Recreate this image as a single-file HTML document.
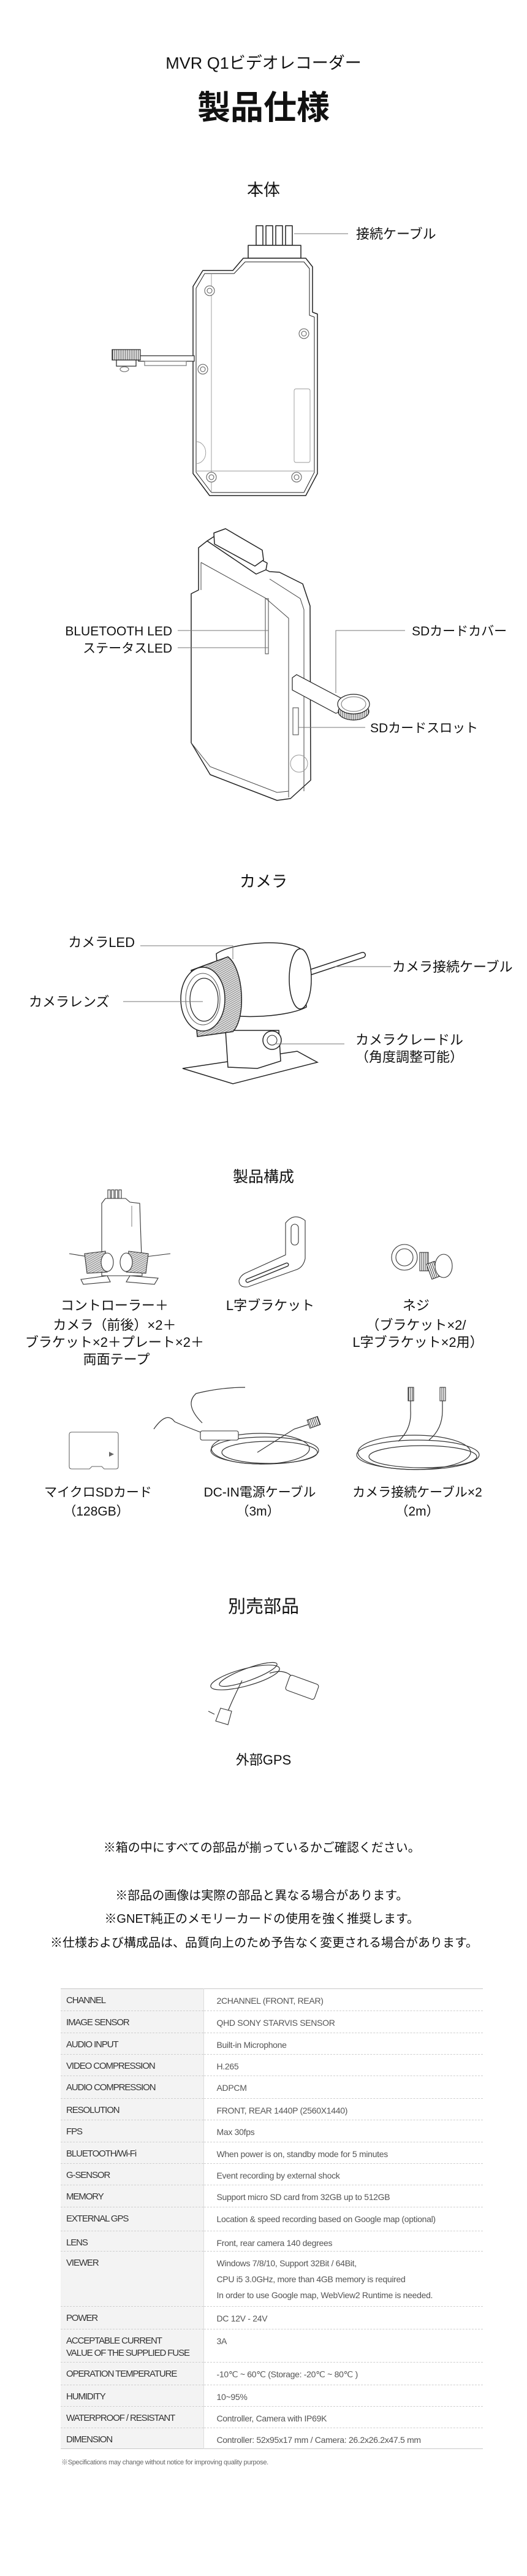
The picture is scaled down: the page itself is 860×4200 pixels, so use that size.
<!DOCTYPE html>
<html><head><meta charset="utf-8">
<style>
html,body{margin:0;padding:0;background:#fff;}
body{width:860px;height:4200px;position:relative;overflow:hidden;font-family:"Liberation Sans","Noto Sans CJK JP",sans-serif;}
svg{position:absolute;left:0;top:0;}
svg text{font-family:"Liberation Sans","Noto Sans CJK JP",sans-serif;fill:#111;}
table{position:absolute;left:99px;top:3242px;width:689px;border-collapse:collapse;border-top:1.5px solid #c8c8c8;border-bottom:1.5px solid #c8c8c8;font-family:"Liberation Sans",sans-serif;}
td{vertical-align:top;padding:6px 0 0 0;line-height:26px;border-bottom:1px dashed #cfcfcf;box-sizing:border-box;}
td.l{width:233px;background:#f3f3f3;padding-left:9px;font-size:15px;letter-spacing:-1.1px;color:#333;border-right:1px solid #ddd;}
td.v{padding-left:21px;font-size:14px;letter-spacing:-0.3px;color:#555;}
.fn{position:absolute;left:100px;top:4006px;font-size:11px;color:#666;letter-spacing:-0.3px;}
</style></head><body>
<svg width="860" height="4200" viewBox="0 0 860 4200">
<defs>
<pattern id="hatch" width="3" height="3" patternUnits="userSpaceOnUse" patternTransform="rotate(60)"><rect width="3" height="3" fill="#ddd"/><line x1="0" y1="0" x2="0" y2="3" stroke="#555" stroke-width="1.2"/></pattern>
<pattern id="rib" width="3" height="10" patternUnits="userSpaceOnUse"><rect width="3" height="10" fill="#fff"/><line x1="1" y1="0" x2="1" y2="10" stroke="#333" stroke-width="1"/></pattern>
</defs>

<text x="430" y="112" font-size="27" text-anchor="middle">MVR Q1ビデオレコーダー</text>
<text x="430" y="194" font-size="54" font-weight="bold" text-anchor="middle">製品仕様</text>
<text x="430" y="319" font-size="27" text-anchor="middle">本体</text>

<!-- Device 1 -->
<g fill="none" stroke="#222" stroke-width="1.5" stroke-linejoin="round">
<rect x="418" y="368" width="11" height="32" fill="#fff"/>
<rect x="434" y="368" width="11" height="32" fill="#fff"/>
<rect x="450" y="368" width="11" height="32" fill="#fff"/>
<rect x="466" y="368" width="11" height="32" fill="#fff"/>
<rect x="405" y="400" width="86" height="21" fill="#fff"/>
<path d="M380,441 L397,421 L499,421 L510,435 L510,509 L518,512 L518,772 L499,808 L342,808 L315,772 L315,467 L331,441 Z" fill="#fff"/>
<path d="M382,446 L400,427 L496,427 L505,438 L505,514 L513,517 L513,770 L496,803 L345,803 L320,770 L320,470 L334,446 Z" stroke-width="1"/>
</g>
<g fill="none" stroke="#999" stroke-width="0.9">
<line x1="345" y1="446" x2="345" y2="803"/>
<line x1="320" y1="768" x2="513" y2="768"/>
<rect x="480" y="634" width="26" height="120" rx="3"/>
<path d="M320,720 A14,16 0 0 1 320,756"/>
</g>
<g fill="#fff" stroke="#555" stroke-width="1">
<circle cx="342" cy="474" r="8"/><circle cx="342" cy="474" r="4"/>
<circle cx="496" cy="544" r="8"/><circle cx="496" cy="544" r="4"/>
<circle cx="331" cy="602" r="8"/><circle cx="331" cy="602" r="4"/>
<circle cx="345" cy="778" r="8"/><circle cx="345" cy="778" r="4"/>
<circle cx="484" cy="778" r="8"/><circle cx="484" cy="778" r="4"/>
</g>
<g stroke="#222" stroke-width="1.2" fill="#fff">
<rect x="226" y="580" width="91" height="9"/>
<rect x="236" y="589" width="68" height="7" stroke="#777"/>
<rect x="183" y="570" width="46" height="17" fill="url(#rib)"/>
<rect x="190" y="587" width="32" height="10"/>
<ellipse cx="203" cy="602" rx="7" ry="4" stroke="#777"/>
</g>
<line x1="480" y1="381" x2="568" y2="381" stroke="#777" stroke-width="1"/>
<text x="581" y="389" font-size="22">接続ケーブル</text>

<!-- Device 2 -->
<g fill="#fff" stroke="#222" stroke-width="1.5" stroke-linejoin="round">
<path d="M324,893 L338,882 L440,932 L456,933 L494,952 L506,988 L507,1272 L474,1302 L452,1305 L343,1263 L312,1211 L312,968 L324,962 Z"/>
<path d="M338,882 L352,873 L436,918 L434,929 L418,936 Z"/>
<path d="M349,869 L368,862 L428,897 L430,913 L416,923 L350,887 Z"/>
</g>
<g fill="none" stroke="#444" stroke-width="1">
<path d="M328,917 L433,975 L471,1008 L471,1300"/>
<path d="M328,917 L328,962"/>
<path d="M440,944 L490,976 L496,994 L496,1290"/>
<path d="M312,1211 L343,1250 L452,1292 L471,1290"/>
<rect x="433" y="976" width="5" height="90"/>
<circle cx="488" cy="1245" r="14" stroke="#999"/>
<rect x="478" y="1154" width="9" height="44"/>
</g>
<g fill="#fff" stroke="#222" stroke-width="1.2">
<path d="M477,1105 L484,1100 L556,1138 L556,1160 L548,1163 L477,1125 Z"/>
<ellipse cx="577" cy="1160" rx="25" ry="14" fill="url(#rib)"/>
<ellipse cx="577" cy="1148" rx="26" ry="16"/>
<ellipse cx="577" cy="1148" rx="20" ry="12" stroke="#888"/>
</g>
<g stroke="#777" stroke-width="1" fill="none">
<line x1="290" y1="1028" x2="438" y2="1028"/>
<line x1="290" y1="1056" x2="438" y2="1056"/>
<polyline points="661,1028 548,1028 548,1130"/>
<line x1="487" y1="1186" x2="596" y2="1186"/>
</g>
<text x="281" y="1036" font-size="21" text-anchor="end">BLUETOOTH LED</text>
<text x="281" y="1064" font-size="21" text-anchor="end">ステータスLED</text>
<text x="672" y="1036" font-size="21">SDカードカバー</text>
<text x="604" y="1194" font-size="21">SDカードスロット</text>

<!-- Camera -->
<text x="430" y="1446" font-size="26" text-anchor="middle">カメラ</text>
<path d="M498,1588 L592,1557" stroke="#222" stroke-width="10" stroke-linecap="round"/>
<path d="M498,1588 L592,1557" stroke="#fff" stroke-width="7" stroke-linecap="round"/>
<g stroke="#222" stroke-width="1.5" fill="#fff">
<path d="M298,1742 L485,1714 L518,1732 L380,1767 Z"/>
<path d="M368,1680 L372,1740 L420,1742 L458,1730 L455,1680 Z"/>
<path d="M353,1555 C380,1536 470,1530 492,1548 L500,1642 C470,1658 390,1662 360,1652 Z"/>
<ellipse cx="490" cy="1596" rx="18" ry="49"/>
<path d="M312,1582 L372,1560 C398,1580 402,1660 380,1682 L322,1690 Z" fill="url(#hatch)"/>
<ellipse cx="331" cy="1629" rx="36" ry="52"/>
<ellipse cx="331" cy="1629" rx="28" ry="42" fill="none" stroke="#555" stroke-width="1"/>
<ellipse cx="333" cy="1630" rx="23" ry="35" stroke-width="1.2"/>
<circle cx="444" cy="1696" r="15"/>
<circle cx="444" cy="1696" r="8" stroke-width="1"/>
</g>
<g stroke="#777" stroke-width="1" fill="none">
<polyline points="229,1542 380,1542 380,1564"/>
<line x1="201" y1="1633" x2="331" y2="1633"/>
<line x1="546" y1="1576" x2="638" y2="1576"/>
<line x1="449" y1="1702" x2="562" y2="1702"/>
</g>
<text x="220" y="1544" font-size="22" text-anchor="end">カメラLED</text>
<text x="47" y="1641" font-size="22">カメラレンズ</text>
<text x="640" y="1584" font-size="22">カメラ接続ケーブル</text>
<text x="668" y="1703" font-size="22" text-anchor="middle">カメラクレードル</text>
<text x="668" y="1731" font-size="22" text-anchor="middle">（角度調整可能）</text>

<!-- Components -->
<text x="430" y="1927" font-size="25" text-anchor="middle">製品構成</text>
<g stroke="#333" stroke-width="1.1" fill="#fff">
<rect x="176" y="1940" width="4" height="14"/><rect x="182" y="1940" width="4" height="14"/><rect x="188" y="1940" width="4" height="14"/><rect x="194" y="1940" width="4" height="14"/>
<path d="M166,1962 L172,1954 L205,1954 L212,1960 L228,1962 L232,2080 L166,2080 Z"/>
<line x1="215" y1="1966" x2="215" y2="2000" stroke="#888"/>
<line x1="113" y1="2044" x2="150" y2="2050"/><line x1="230" y1="2050" x2="278" y2="2044"/>
<path d="M138,2044 L172,2040 L175,2074 L142,2076 Z" fill="url(#hatch)"/>
<ellipse cx="175" cy="2058" rx="10" ry="15"/>
<path d="M210,2040 L242,2044 L238,2076 L206,2074 Z" fill="url(#hatch)"/>
<ellipse cx="206" cy="2058" rx="10" ry="15"/>
<path d="M132,2086 L175,2080 L180,2090 L136,2094 Z"/>
<path d="M206,2090 L212,2080 L258,2084 L252,2094 Z"/>
<!-- L bracket -->
<path d="M466,1994 Q480,1976 498,1990 L498,2052 Q495,2066 484,2070 L405,2098 Q390,2100 390,2088 Q392,2080 400,2076 L466,2046 Z"/>
<rect x="475" y="1996" width="12" height="34" rx="6"/>
<path d="M404,2088 L468,2062" stroke-width="7" stroke-linecap="round"/>
<path d="M404,2088 L468,2062" stroke="#fff" stroke-width="4" stroke-linecap="round"/>
<!-- screws -->
<rect x="685" y="2042" width="14" height="30" fill="url(#rib)"/>
<circle cx="660" cy="2050" r="21"/><circle cx="660" cy="2050" r="14"/>
<rect x="700" y="2058" width="14" height="26" fill="url(#rib)" transform="rotate(-20 707 2071)"/>
<ellipse cx="724" cy="2064" rx="14" ry="19"/>
<!-- SD card -->
<path d="M113,2339 Q113,2335 117,2335 L189,2335 Q193,2335 193,2339 L193,2391 Q193,2395 189,2395 L170,2395 L166,2391 L150,2391 L146,2395 L117,2395 Q113,2395 113,2391 Z" stroke="#666"/>
<path d="M178,2367 L186,2371 L178,2375 Z" fill="#666" stroke="none"/>
<!-- DC cable -->
<g fill="none" stroke-width="1.2">
<ellipse cx="432" cy="2365" rx="88" ry="22"/><ellipse cx="440" cy="2368" rx="78" ry="18"/><ellipse cx="425" cy="2362" rx="80" ry="25"/>
<path d="M420,2368 L480,2330 L505,2322"/>
<path d="M340,2340 Q300,2325 285,2318 Q272,2300 251,2330"/>
<path d="M330,2320 Q300,2290 320,2272 Q360,2262 400,2262"/>
</g>
<rect x="327" y="2333" width="62" height="15" rx="3"/>
<rect x="503" y="2312" width="18" height="14" fill="url(#rib)" transform="rotate(-20 512 2319)"/>
<!-- Camera cables -->
<g fill="none" stroke-width="1.2">
<ellipse cx="682" cy="2372" rx="100" ry="24"/><ellipse cx="690" cy="2375" rx="88" ry="18"/><ellipse cx="676" cy="2368" rx="92" ry="28"/>
<path d="M650,2350 Q672,2330 670,2300 L670,2280"/>
<path d="M700,2348 Q722,2330 722,2300 L722,2280"/>
</g>
<rect x="666" y="2262" width="9" height="22" fill="url(#rib)"/>
<rect x="718" y="2262" width="9" height="22" fill="url(#rib)"/>
<!-- GPS -->
<g fill="none" stroke-width="1.2">
<ellipse cx="400" cy="2735" rx="58" ry="14" transform="rotate(-15 400 2735)"/>
<ellipse cx="405" cy="2730" rx="50" ry="10" transform="rotate(-20 405 2730)"/>
<path d="M395,2740 Q380,2770 372,2790"/>
<path d="M440,2728 Q465,2720 478,2735"/>
</g>
<rect x="468" y="2738" width="50" height="26" rx="4" transform="rotate(20 493 2751)"/>
<path d="M360,2785 L378,2790 L372,2812 L352,2806 Z"/>
<line x1="350" y1="2795" x2="340" y2="2790"/>
</g>
<text font-size="22" text-anchor="middle">
<tspan x="190" y="2136">コントローラー＋</tspan>
<tspan x="190" y="2168">カメラ（前後）×2＋</tspan>
<tspan x="190" y="2196">ブラケット×2＋プレート×2＋</tspan>
<tspan x="190" y="2224">両面テープ</tspan>
</text>
<text x="441" y="2136" font-size="22" text-anchor="middle">L字ブラケット</text>
<text font-size="22" text-anchor="middle">
<tspan x="682" y="2136">ネジ</tspan>
<tspan x="682" y="2168">（ブラケット×2/</tspan>
<tspan x="682" y="2196">L字ブラケット×2用）</tspan>
</text>
<text font-size="21" text-anchor="middle">
<tspan x="160" y="2440">マイクロSDカード</tspan><tspan x="160" y="2471">（128GB）</tspan>
<tspan x="424" y="2440">DC-IN電源ケーブル</tspan><tspan x="424" y="2471">（3m）</tspan>
<tspan x="681" y="2440">カメラ接続ケーブル×2</tspan><tspan x="681" y="2471">（2m）</tspan>
</text>

<text x="430" y="2629" font-size="29" text-anchor="middle">別売部品</text>
<text x="430" y="2877" font-size="22" text-anchor="middle">外部GPS</text>

<text font-size="20" text-anchor="middle">
<tspan x="430" y="3019">※箱の中にすべての部品が揃っているかご確認ください。</tspan>
<tspan x="430" y="3097">※部品の画像は実際の部品と異なる場合があります。</tspan>
<tspan x="430" y="3135">※GNET純正のメモリーカードの使用を強く推奨します。</tspan>
<tspan x="431" y="3174">※仕様および構成品は、品質向上のため予告なく変更される場合があります。</tspan>
</text>
</svg>

<table>
<tr style="height:36px"><td class="l">CHANNEL</td><td class="v">2CHANNEL (FRONT, REAR)</td></tr>
<tr style="height:36px"><td class="l">IMAGE SENSOR</td><td class="v">QHD SONY STARVIS SENSOR</td></tr>
<tr style="height:35px"><td class="l">AUDIO INPUT</td><td class="v">Built-in Microphone</td></tr>
<tr style="height:35px"><td class="l">VIDEO COMPRESSION</td><td class="v">H.265</td></tr>
<tr style="height:37px"><td class="l">AUDIO COMPRESSION</td><td class="v">ADPCM</td></tr>
<tr style="height:35px"><td class="l">RESOLUTION</td><td class="v">FRONT, REAR 1440P (2560X1440)</td></tr>
<tr style="height:36px"><td class="l">FPS</td><td class="v">Max 30fps</td></tr>
<tr style="height:35px"><td class="l">BLUETOOTH/Wi-Fi</td><td class="v">When power is on, standby mode for 5 minutes</td></tr>
<tr style="height:35px"><td class="l">G-SENSOR</td><td class="v">Event recording by external shock</td></tr>
<tr style="height:36px"><td class="l">MEMORY</td><td class="v">Support micro SD card from 32GB up to 512GB</td></tr>
<tr style="height:39px"><td class="l">EXTERNAL GPS</td><td class="v">Location &amp; speed recording based on Google map (optional)</td></tr>
<tr style="height:31px"><td class="l">LENS</td><td class="v">Front, rear camera 140 degrees</td></tr>
<tr style="height:90px"><td class="l">VIEWER</td><td class="v">Windows 7/8/10, Support 32Bit / 64Bit,<br>CPU i5 3.0GHz, more than 4GB memory is required<br>In order to use Google map, WebView2 Runtime is needed.</td></tr>
<tr style="height:37px"><td class="l">POWER</td><td class="v">DC 12V - 24V</td></tr>
<tr style="height:54px"><td class="l" style="line-height:20px;padding-top:9px">ACCEPTABLE CURRENT<br>VALUE OF THE SUPPLIED FUSE</td><td class="v">3A</td></tr>
<tr style="height:37px"><td class="l">OPERATION TEMPERATURE</td><td class="v">-10℃ ~ 60℃ (Storage: -20℃ ~ 80℃ )</td></tr>
<tr style="height:35px"><td class="l">HUMIDITY</td><td class="v">10~95%</td></tr>
<tr style="height:35px"><td class="l">WATERPROOF / RESISTANT</td><td class="v">Controller, Camera with IP69K</td></tr>
<tr style="height:34px"><td class="l" style="border-bottom:none">DIMENSION</td><td class="v" style="border-bottom:none">Controller: 52x95x17 mm / Camera: 26.2x26.2x47.5 mm</td></tr>
</table>
<div class="fn">※Specifications may change without notice for improving quality purpose.</div>
</body></html>
